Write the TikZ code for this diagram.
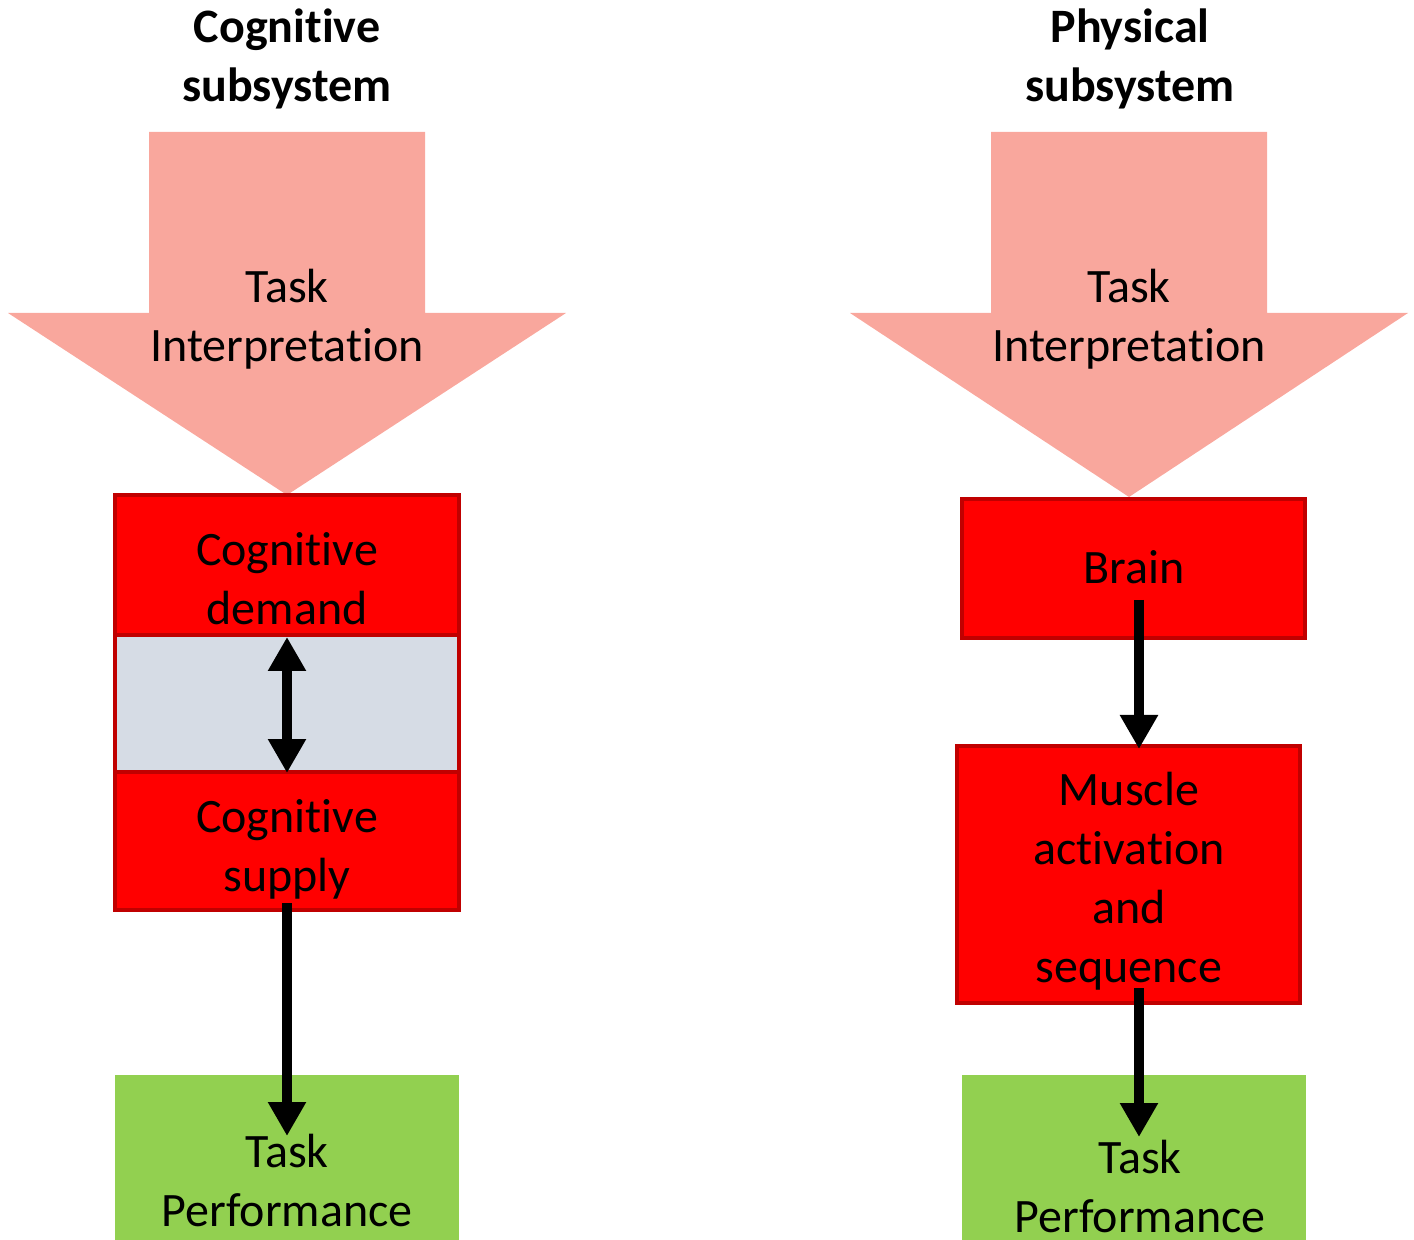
\documentclass[tikz,border=0pt]{standalone}
\usepackage{fontspec}
\setmainfont{Carlito}[Ligatures=NoCommon]
\usetikzlibrary{arrows.meta}
\definecolor{pinkarrow}{HTML}{F9A79D}
\definecolor{boxborder}{HTML}{C00000}
\definecolor{boxred}{HTML}{FF0000}
\definecolor{gapgray}{HTML}{D6DCE5}
\definecolor{perfgreen}{HTML}{92D050}
\begin{document}
\begin{tikzpicture}[x=0.5pt,y=-0.5pt,
  txt/.style={font=\fontsize{24}{29.5}\selectfont, align=center, text=black, inner sep=0pt},
  ttl/.style={font=\fontsize{24}{29.5}\selectfont\bfseries, align=center, text=black, inner sep=0pt},
  redbox/.style={draw=boxborder, line width=2pt, fill=boxred, inner sep=0pt},
  graybox/.style={draw=boxborder, line width=2pt, fill=gapgray, inner sep=0pt},
  greenbox/.style={fill=perfgreen, inner sep=0pt},
  bigarrow/.style={fill=pinkarrow},
  conn/.style={line width=5pt, -{Triangle[width=18pt,length=17pt]}},
  dconn/.style={line width=5pt, {Triangle[width=18pt,length=17pt]}-{Triangle[width=18pt,length=17pt]}}
]
\useasboundingbox (0,0) rectangle (1414,1240);

% ---------- Left column ----------
\node[ttl] (t1) at (287,59) {Cognitive\\subsystem};
\path[bigarrow] (149,132) -- (425,132) -- (425,313) -- (566,313) -- (287,495) -- (8,313) -- (149,313) -- cycle;
\node[txt] (ti1) at (287,319) {Task\\Interpretation};

\node[graybox, minimum width=172pt, minimum height=68.5pt] (gap) at (287,703.5) {};
\node[redbox, minimum width=172pt, minimum height=70pt] (dem) at (287,565) {};
\node[txt] (demt) at (287,579) {Cognitive\\demand};
\node[redbox, minimum width=172pt, minimum height=69pt] (sup) at (287,841) {};
\node[txt] (supt) at (287,849) {Cognitive\\supply};

\node[greenbox, minimum width=172pt, minimum height=82.5pt] (perf1) at (287,1157.5) {};
\node[txt] (perf1t) at (287,1181) {Task\\Performance};

\coordinate (d1) at (287,637);
\coordinate (d2) at (287,773);
\draw[dconn] (d1) -- (d2);
\coordinate (a1) at (287,903);
\coordinate (a2) at (287,1136);
\draw[conn] (a1) -- (a2);

% ---------- Right column ----------
\node[ttl] (t2) at (1130,59) {Physical\\subsystem};
\path[bigarrow] (991,132) -- (1267,132) -- (1267,313) -- (1408,313) -- (1129,497) -- (850,313) -- (991,313) -- cycle;
\node[txt] (ti2) at (1129,319) {Task\\Interpretation};

\node[redbox, minimum width=171.5pt, minimum height=69.5pt] (brain) at (1133.5,568.5) {};
\node[txt] (braint) at (1134,567) {Brain};
\node[redbox, minimum width=171.5pt, minimum height=128.5pt] (musc) at (1128.5,874.5) {};
\node[txt] (musct) at (1129,881) {Muscle\\activation\\and\\sequence};

\node[greenbox, minimum width=172pt, minimum height=82.5pt] (perf2) at (1134,1157.5) {};
\node[txt] (perf2t) at (1140,1187) {Task\\Performance};

\coordinate (b1) at (1139,600);
\coordinate (b2) at (1139,749);
\draw[conn] (b1) -- (b2);
\coordinate (c1) at (1139,988);
\coordinate (c2) at (1139,1137);
\draw[conn] (c1) -- (c2);
\end{tikzpicture}
\end{document}
